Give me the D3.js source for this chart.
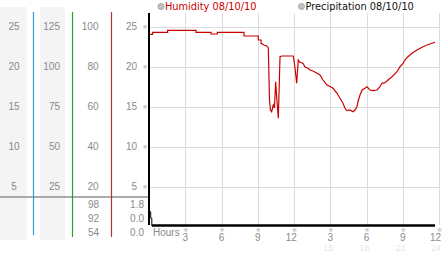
<!DOCTYPE html>
<html><head><meta charset="utf-8">
<script src="https://cdn.jsdelivr.net/npm/d3@7"></script>
<style>html,body{margin:0;padding:0;background:#fff;overflow:hidden}</style>
</head><body>
<svg id="c" width="442" height="253"></svg>
<script>
// ---- data ----
const hourTicks = [3, 6, 9, 12, 15, 18, 21, 24];
const hourLabels = ["3", "6", "9", "12", "3", "6", "9", "12"];
const hourSubLabels = ["", "", "", "", "15", "18", "21", "24"];
const col1Ticks = [5, 10, 15, 20, 25];
const col2Ticks = [25, 50, 75, 100, 125];
const humTicks = [20, 40, 60, 80, 100];
const col4Ticks = [5, 10, 15, 20, 25];
const humStats = ["98", "92", "54"];
const precipStats = ["1.8", "0.0", "0.0"];
const humHours = [0, 0.22, 0.22, 1.46, 1.46, 3.81, 3.81, 5.05, 5.05, 5.57, 5.57, 7.78, 7.78, 8.96, 8.96, 9.19, 9.19, 9.43, 9.66, 9.79, 9.89, 9.97, 10.07, 10.2, 10.3, 10.4, 10.49, 10.62, 10.76, 10.92, 11.86, 12.0, 12.14, 12.27, 12.41, 12.66, 12.83, 13.08, 13.24, 13.49, 13.82, 14.07, 14.32, 14.65, 14.9, 15.15, 15.48, 15.73, 15.97, 16.14, 16.3, 16.55, 16.8, 16.97, 17.13, 17.21, 17.38, 17.55, 17.79, 17.96, 18.2, 18.46, 18.79, 19.03, 19.2, 19.45, 19.7, 20.03, 20.44, 20.69, 20.94, 21.1, 21.35, 21.68, 22.1, 22.51, 22.92, 23.34, 23.59];
const humValues = [96.2, 96.2, 97.2, 97.2, 98.2, 98.2, 97.2, 97.2, 96.35, 96.35, 97.2, 97.2, 95.35, 95.35, 93.35, 93.35, 91.7, 90.85, 90.35, 89.35, 63.35, 58.35, 57.5, 60.85, 59.35, 72.5, 64.35, 54.2, 85, 85.35, 85.35, 79.35, 71.7, 83.35, 82.2, 81.7, 79.85, 79.2, 78.35, 77.85, 76.7, 75.85, 73.35, 70.85, 70.1, 69.2, 66.7, 64.2, 61.7, 59.2, 58, 58.35, 57.5, 58.35, 60, 62.5, 65.85, 68.35, 69.2, 70, 68.35, 68, 68.35, 70, 71.7, 72, 73.35, 75, 77.5, 80, 81.7, 83.35, 85, 86.7, 88.35, 89.7, 90.85, 91.7, 92.2];
const precipHours = [0, 0.06, 0.15, 23.59];
const precipValues = [1.8, 0.95, 0, 0];

// ---- drawing ----
const svg = d3.select("#c");
const labelFont = "'Liberation Sans', Arial, sans-serif";
const gray = "#8a8a8a";
svg.append("rect").attr("width", 442).attr("height", 253).attr("fill", "#fff");

const x = d3.scaleLinear().domain([0, 24]).range([150, 440]);
const yHum = d3.scaleLinear().domain([0, 100]).range([226.7, 26.7]);
const y25 = d3.scaleLinear().domain([0, 25]).range([226.7, 26.7]);
const y125 = d3.scaleLinear().domain([0, 125]).range([226.7, 26.7]);
const yPrec = d3.scaleLinear().domain([0, 3.6]).range([225.5, 197.9]);
const plotTop = 13, plotBottom = 225;

// left panel column backgrounds
[[0, 27], [40, 65]].forEach(([a, b]) =>
  svg.append("rect").attr("x", a).attr("y", 7).attr("width", b - a).attr("height", 233).attr("fill", "#f4f4f4"));

// separator
svg.append("line").attr("x1", 0).attr("x2", 149).attr("y1", 197).attr("y2", 197)
  .attr("stroke", "#aaa").attr("stroke-width", 2);

// colored column lines
[[33.5, "#2a9fd0", 235], [72.5, "#2ca02c", 237], [111.5, "#b83030", 237]].forEach(([xx, col, yb]) =>
  svg.append("line").attr("x1", xx).attr("x2", xx).attr("y1", 12).attr("y2", yb)
    .attr("stroke", col).attr("stroke-width", 1.2));

function colLabels(ticks, scale, xx, anchor) {
  svg.append("g").selectAll("text").data(ticks).join("text")
    .attr("x", xx).attr("y", d => scale(d)).attr("dy", "0.35em")
    .attr("text-anchor", anchor).attr("font-family", labelFont).attr("font-size", 10)
    .attr("fill", gray).text(d => d);
}
colLabels(col1Ticks, y25, 14, "middle");
colLabels(col2Ticks, y125, 60, "end");
colLabels(humTicks, yHum, 98.5, "end");
colLabels(col4Ticks, y25, 137, "end");

// stats
function stats(arr, xx) {
  svg.append("g").selectAll("text").data(arr).join("text")
    .attr("x", xx).attr("y", (d, i) => 204.5 + i * 14).attr("dy", "0.35em")
    .attr("text-anchor", "end").attr("font-family", labelFont).attr("font-size", 10)
    .attr("fill", gray).text(d => d);
}
stats(humStats, 99);
stats(precipStats, 144);

// gridlines
svg.append("g").selectAll("line").data(humTicks).join("line")
  .attr("x1", x(0)).attr("x2", x(24)).attr("y1", d => Math.round(yHum(d)) + 0.5).attr("y2", d => Math.round(yHum(d)) + 0.5)
  .attr("stroke", "#dcdcdc").attr("stroke-width", 1);
svg.append("g").selectAll("line").data(hourTicks).join("line")
  .attr("x1", d => Math.round(x(d)) - 0.5).attr("x2", d => Math.round(x(d)) - 0.5).attr("y1", plotTop).attr("y2", plotBottom)
  .attr("stroke", "#dcdcdc").attr("stroke-width", 1);

// y tick glyphs
svg.append("g").selectAll("text").data(col4Ticks).join("text")
  .attr("x", 145).attr("y", d => y25(d)).attr("dy", "0.35em").attr("text-anchor", "middle")
  .attr("font-family", "'DejaVu Sans', 'Noto Sans CJK JP', sans-serif").attr("font-size", 6)
  .attr("fill", "#aaa").text("※");

// humidity line
svg.append("path").datum(humHours.map((h, i) => [h, humValues[i]]))
  .attr("d", d3.line().x(d => x(d[0])).y(d => yHum(d[1])))
  .attr("fill", "none").attr("stroke", "#cc0000").attr("stroke-width", 1.2);

// left axis
svg.append("line").attr("x1", 149).attr("x2", 149).attr("y1", plotTop).attr("y2", plotBottom)
  .attr("stroke", "#000").attr("stroke-width", 2);

// precipitation line
const precData = precipHours.map((h, i) => [h, precipValues[i]]);
svg.append("path").datum(precData)
  .attr("d", d3.line().curve(d3.curveStepAfter).x(d => x(d[0])).y(d => yPrec(d[1])))
  .attr("fill", "none").attr("stroke", "#000").attr("stroke-width", 1);
svg.append("path").datum(precData.filter(d => d[1] === 0))
  .attr("d", d3.line().x(d => x(d[0])).y(d => yPrec(d[1])))
  .attr("fill", "none").attr("stroke", "#000").attr("stroke-width", 2.5);

// x axis labels
svg.append("text").attr("x", 153).attr("y", 232.5).attr("dy", "0.35em")
  .attr("font-family", labelFont).attr("font-size", 10).attr("fill", gray).text("Hours");
svg.append("g").selectAll("text").data(hourTicks).join("text")
  .attr("x", d => x(d) - 0.5).attr("y", 230.3).attr("dy", "0.35em").attr("text-anchor", "middle")
  .attr("font-family", "'DejaVu Sans', 'Noto Sans CJK JP', sans-serif").attr("font-size", 6)
  .attr("fill", "#aaa").text("※");
svg.append("g").selectAll("text").data(hourTicks).join("text")
  .attr("x", d => Math.min(x(d) + 1.8, 441)).attr("y", 237.5).attr("dy", "0.35em").attr("text-anchor", "end")
  .attr("font-family", labelFont).attr("font-size", 10).attr("fill", gray).text((d, i) => hourLabels[i]);
svg.append("g").selectAll("text").data(hourTicks).join("text")
  .attr("x", d => Math.min(x(d) + 2, 441)).attr("y", 247.5).attr("dy", "0.35em").attr("text-anchor", "end")
  .attr("font-family", labelFont).attr("font-size", 9).attr("fill", "#e6e6e6").text((d, i) => hourSubLabels[i]);

// legend
const legend = [["Humidity 08/10/10", "#cc0000", 161], ["Precipitation 08/10/10", "#111", 301.5]];
legend.forEach(([t, col, lx]) => {
  svg.append("circle").attr("cx", lx).attr("cy", 6.5).attr("r", 3).attr("fill", "#c4c4c4").attr("stroke", "#999").attr("stroke-width", 0.8);
  svg.append("text").attr("x", lx + 4).attr("y", 6.5).attr("dy", "0.35em")
    .attr("font-family", "'DejaVu Sans', sans-serif").attr("font-size", 9.8).attr("fill", col).text(t);
});
</script>
</body></html>
